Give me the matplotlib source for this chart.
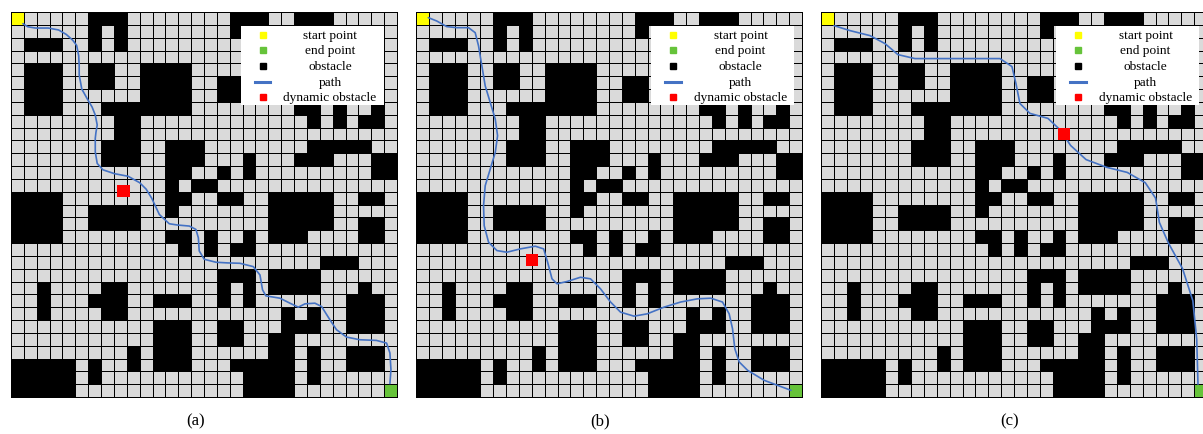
import numpy as np
import matplotlib
matplotlib.use("Agg")
import matplotlib.pyplot as plt
from matplotlib.colors import ListedColormap
from matplotlib.patches import Rectangle

# ---------------- data ----------------
# 30 x 30 grid map: '#' obstacle, '.' free, 'S' start, 'E' end (row 0 = top)
MAP_ROWS = [
    "S.....###........###..###.....",
    "......#.#........#............",
    ".###..#.#.....................",
    "..............................",
    ".###..##..####................",
    ".###..##..####..##............",
    ".###......####..##............",
    ".###...#######........##.#..#.",
    "........##.............#.#.##.",
    "........##....................",
    ".......###..###........#####..",
    ".......###..###...#...###...##",
    "............##..#.#.........##",
    "............#.##..............",
    "####........##..##..#####..##.",
    "####..####..#.......#####.....",
    "####..####..........#####..##.",
    "####........##.#..#.###....##.",
    ".............#.#.##...........",
    "........................###...",
    "................###.####......",
    "..#....##.......#.#.####...#..",
    "..#...###..###..#.#.......###.",
    "..#....##............#.#..###.",
    "...........###..##...###..###.",
    "...........###..##..##........",
    ".........#.###......##.#..###.",
    "#####.#..#.###...#####.#..###.",
    "#####.#...........####.#......",
    "#####.............####.......E",
]

# planned paths (grid units: x = column, y = row from top)
PATH_A_X = [0.93, 1.3, 1.9, 2.9, 3.7, 4.3, 4.8, 5.1, 5.26, 5.3, 5.3, 5.5, 5.98, 6.3,
            6.55, 6.7, 6.6, 6.55, 6.55, 6.7, 7.15, 8.05, 9.1, 10.0, 10.5, 10.93,
            11.53, 12.3, 12.95, 13.86, 14.37, 14.56, 14.63, 15.02, 15.93, 16.8,
            17.79, 18.83, 19.35, 19.55, 19.81, 20.9, 21.68, 22.33, 22.85, 23.62,
            24.14, 24.79, 25.3, 26.08, 27.12, 28.4, 29.19, 29.45, 29.53, 29.45]
PATH_A_Y = [0.91, 1.15, 1.25, 1.25, 1.4, 1.75, 2.2, 2.6, 3.4, 4.2, 4.9, 6.0, 6.86, 7.4,
            8.03, 8.8, 9.4, 9.84, 10.9, 11.8, 12.3, 12.6, 12.8, 13.3, 13.8, 14.5,
            15.78, 16.5, 16.6, 16.68, 16.94, 17.59, 18.62, 19.27, 19.5, 19.55,
            19.58, 19.84, 20.49, 21.65, 22.12, 22.3, 22.69, 23.0, 22.74, 22.69,
            22.95, 23.99, 24.76, 25.33, 25.54, 25.59, 25.8, 26.57, 27.87, 28.95]

PATH_B_X = [0.96, 1.61, 2.39, 3.17, 4.08, 4.6, 4.86, 5.12, 5.38, 5.77, 6.16, 6.34, 6.16,
            5.77, 5.38, 5.25, 5.3, 5.64, 6.29, 7.06, 8.1, 9.27, 9.92, 10.23, 10.57,
            10.96, 11.74, 12.78, 13.56, 14.34, 15.12, 15.9, 16.94, 17.97, 19.27,
            20.57, 21.87, 22.91, 23.82, 24.34, 24.6, 24.78, 25.12, 25.77, 27.06,
            28.1, 29.14]
PATH_B_Y = [0.44, 0.7, 1.14, 1.22, 1.22, 1.61, 2.64, 4.2, 5.76, 7.05, 8.35, 9.64, 10.94,
            12.24, 13.53, 15.09, 16.65, 17.94, 18.59, 18.72, 18.46, 18.25, 18.46,
            19.5, 20.79, 21.18, 21.0, 20.67, 20.79, 21.57, 22.6, 23.39, 23.7, 23.52,
            23.0, 22.6, 22.35, 22.3, 22.6, 23.52, 24.68, 26.24, 27.27, 27.92, 28.7,
            29.09, 29.48]

PATH_C_X = [1.01, 2.25, 3.81, 4.97, 5.98, 7.3, 10.8, 13.91, 14.84, 15.15, 15.46, 16.24,
            17.64, 18.6, 19.4, 20.6, 22.2, 23.8, 25.2, 26.0, 26.3, 27.0, 28.1, 28.9,
            29.2, 29.3]
PATH_C_Y = [1.06, 1.45, 1.84, 2.46, 3.32, 3.63, 3.63, 3.63, 4.25, 5.57, 7.13, 7.9,
            8.29, 9.2, 10.4, 11.5, 12.1, 12.5, 13.3, 14.5, 16.4, 18.0, 20.0, 22.5,
            25.5, 29.0]

# dynamic obstacle centres (grid units)
DYN_X = [8.74, 9.01, 18.9]
DYN_Y = [13.92, 19.35, 9.5]

LEGEND_LABELS = ["start point", "end point", "obstacle", "path", "dynamic obstacle"]
PANEL_LABELS = ["(a)", "(b)", "(c)"]

# ---------------- style ----------------
GRAY = "#DADADA"
LINE = "#5A5A5A"
YELLOW = "#FFFF00"
GREEN = "#66C33A"
BLUE = "#4472C4"
RED = "#FF0000"
SERIF = ["Liberation Serif", "DejaVu Serif"]

code = {".": 0, "#": 1, "S": 2, "E": 3}
grid = np.array([[code[c] for c in row] for row in MAP_ROWS])
n = grid.shape[0]
cmap = ListedColormap([GRAY, "#000000", YELLOW, GREEN])
black_only = np.ma.masked_where(grid != 1, grid)

paths = [(PATH_A_X, PATH_A_Y), (PATH_B_X, PATH_B_Y), (PATH_C_X, PATH_C_Y)]

W, H = 1203, 435
fig = plt.figure(figsize=(W / 100, H / 100), dpi=100)

panel_left_px = [11, 416, 821]
panel_w_px = 386
panel_top_px = 13
panel_h_px = 385
legend_x0 = [17.87, 18.3, 18.3]
label_x_px = [196, 600, 1010]

for i in range(3):
    ax = fig.add_axes([panel_left_px[i] / W, 1 - (panel_top_px + panel_h_px) / H,
                       panel_w_px / W, panel_h_px / H])
    edges = np.arange(n + 1)
    ax.pcolormesh(edges, edges, grid, cmap=cmap, vmin=-0.5, vmax=3.5,
                  edgecolors=LINE, linewidth=0.7, clip_on=False)
    # obstacles drawn as solid blocks (inner lines black)
    ax.pcolormesh(edges, edges, black_only, cmap=ListedColormap(["#000000"]),
                  edgecolors="#000000", linewidth=0.7, clip_on=False)
    ax.set_xlim(0, n)
    ax.set_ylim(n, 0)
    ax.set_axis_off()

    px, py = paths[i]
    ax.plot(px, py, color=BLUE, lw=1.2, zorder=3, solid_capstyle="round")
    ax.add_patch(Rectangle((DYN_X[i] - 0.47, DYN_Y[i] - 0.47), 0.94, 0.94,
                           facecolor=RED, edgecolor="none", zorder=4))

    # legend (drawn manually, centred labels)
    lx = legend_x0[i]
    ax.add_patch(Rectangle((lx, 1.06), 11.1, 6.22, facecolor="white",
                           edgecolor="none", zorder=5))
    row_y = [1.76 + 1.225 * k for k in range(5)]
    mx = lx + 1.69
    tx = lx + 6.93
    ax.plot([mx], [row_y[0]], "s", color=YELLOW, ms=4.6, zorder=6)
    ax.plot([mx], [row_y[1]], "s", color=GREEN, ms=4.6, zorder=6)
    ax.plot([mx], [row_y[2]], "s", color="black", ms=4.6, zorder=6)
    ax.plot([mx - 0.6, mx + 0.6], [row_y[3], row_y[3]], color=BLUE, lw=2.2, zorder=6)
    ax.plot([mx], [row_y[4]], "s", color=RED, ms=4.6, zorder=6)
    for k, lab in enumerate(LEGEND_LABELS):
        ax.text(tx, row_y[k], lab, ha="center", va="center", fontsize=9.6,
                family=SERIF, zorder=7)

    fig.text(label_x_px[i] / W, 1 - 421 / H, PANEL_LABELS[i],
             ha="center", va="center", fontsize=12, family=SERIF)

fig.savefig("out.png", dpi=100)
